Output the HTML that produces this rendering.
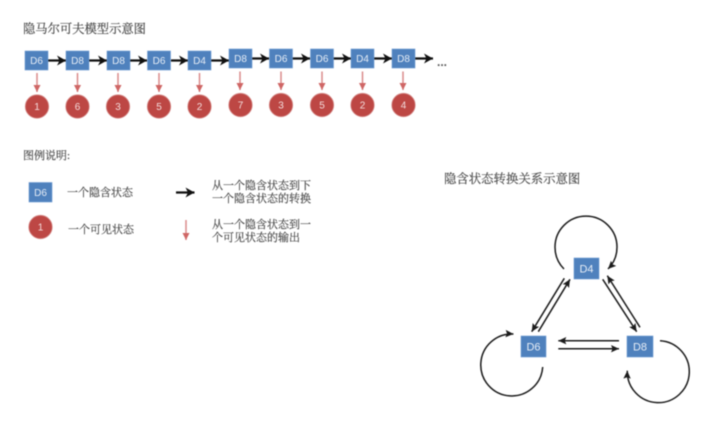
<!DOCTYPE html>
<html>
<head>
<meta charset="utf-8">
<style>
html,body{margin:0;padding:0;background:#fff;width:720px;height:423px;overflow:hidden}
svg{display:block;filter:blur(.5px)}
.cn{font-family:"Liberation Serif","Noto Serif CJK SC",serif;fill:#4a4a4a;stroke:#4a4a4a;stroke-width:.18}
.t{font-family:"Liberation Sans",sans-serif;font-size:10px;fill:#e6edf6;text-anchor:middle}
.n{font-family:"Liberation Sans",sans-serif;font-size:10px;fill:#f3dcdc;text-anchor:middle}
.b{fill:#4f81bd;stroke:#6f9bd0;stroke-width:.6}
.c{fill:#bd4744;stroke:#d58a88;stroke-width:.8}
.k{stroke:#111;stroke-width:2.300;fill:none}
.r{stroke:#d98a8a;stroke-width:1.500;fill:none}
.l{stroke:#1c1c1c;stroke-width:1.500;fill:none}
</style>
</head>
<body>
<svg width="720" height="423" viewBox="0 0 720 423" xmlns="http://www.w3.org/2000/svg">
<defs>
<marker id="ak" markerUnits="userSpaceOnUse" markerWidth="10" markerHeight="11" refX="9" refY="5.500" orient="auto"><path d="M0,.5 L9,5.500 L0,10.500 L2.500,5.500 Z" fill="#111"/></marker>
<marker id="ar" markerUnits="userSpaceOnUse" markerWidth="8" markerHeight="8" refX="7" refY="3.500" orient="auto"><path d="M0,0 L7,3.500 L0,7 Z" fill="#cf6665"/></marker>
<marker id="al" markerUnits="userSpaceOnUse" markerWidth="9" markerHeight="9" refX="8" refY="4" orient="auto"><path d="M0,.3 L8,4 L0,7.700 L1.500,4 Z" fill="#1c1c1c"/></marker>
</defs>

<text class="cn" x="23" y="33" font-size="12.3">隐马尔可夫模型示意图</text>

<!-- black chain -->
<path class="k" d="M48,60.500H66" marker-end="url(#ak)"/>
<path class="k" d="M89,60.500H107" marker-end="url(#ak)"/>
<path class="k" d="M130,60.500H147" marker-end="url(#ak)"/>
<path class="k" d="M171,60.500H188" marker-end="url(#ak)"/>
<path class="k" d="M211,60.500H229" marker-end="url(#ak)"/>
<path class="k" d="M252,58.500H269" marker-end="url(#ak)"/>
<path class="k" d="M292,58.500H310" marker-end="url(#ak)"/>
<path class="k" d="M333,58.500H351" marker-end="url(#ak)"/>
<path class="k" d="M374,58.500H392" marker-end="url(#ak)"/>
<path class="k" d="M415,58.500H433" marker-end="url(#ak)"/>
<text x="437" y="66" font-family="Liberation Sans,sans-serif" font-size="12" font-weight="bold" fill="#555">...</text>

<!-- boxes -->
<rect class="b" x="25" y="51" width="23" height="19"/><text class="t" x="36.500" y="64">D6</text>
<rect class="b" x="66" y="51" width="23" height="19"/><text class="t" x="77.500" y="64">D8</text>
<rect class="b" x="107" y="51" width="23" height="19"/><text class="t" x="118.500" y="64">D8</text>
<rect class="b" x="147.500" y="51" width="23" height="19"/><text class="t" x="159" y="64">D6</text>
<rect class="b" x="188" y="51" width="23" height="19"/><text class="t" x="199.500" y="64">D4</text>
<rect class="b" x="229" y="49" width="23" height="19"/><text class="t" x="240.500" y="62">D8</text>
<rect class="b" x="269.500" y="49" width="23" height="19"/><text class="t" x="281" y="62">D6</text>
<rect class="b" x="310.500" y="49" width="23" height="19"/><text class="t" x="322" y="62">D6</text>
<rect class="b" x="351" y="49" width="23" height="19"/><text class="t" x="362.500" y="62">D4</text>
<rect class="b" x="392" y="49" width="23" height="19"/><text class="t" x="403.500" y="62">D8</text>

<!-- red arrows -->
<path class="r" d="M37,73V92" marker-end="url(#ar)"/>
<path class="r" d="M77.500,73V92" marker-end="url(#ar)"/>
<path class="r" d="M118,73V92" marker-end="url(#ar)"/>
<path class="r" d="M159,73V92" marker-end="url(#ar)"/>
<path class="r" d="M199.500,73V92" marker-end="url(#ar)"/>
<path class="r" d="M240,71.500V90" marker-end="url(#ar)"/>
<path class="r" d="M281,71.500V90" marker-end="url(#ar)"/>
<path class="r" d="M322,71.500V90" marker-end="url(#ar)"/>
<path class="r" d="M362.500,71.500V90" marker-end="url(#ar)"/>
<path class="r" d="M403,71.500V90" marker-end="url(#ar)"/>

<!-- circles -->
<circle class="c" cx="37" cy="106.500" r="11.700"/><text class="n" x="37" y="110">1</text>
<circle class="c" cx="77.500" cy="106.500" r="11.700"/><text class="n" x="77.500" y="110">6</text>
<circle class="c" cx="118" cy="106.500" r="11.700"/><text class="n" x="118" y="110">3</text>
<circle class="c" cx="159" cy="106.500" r="11.700"/><text class="n" x="159" y="110">5</text>
<circle class="c" cx="199.500" cy="106.500" r="11.700"/><text class="n" x="199.500" y="110">2</text>
<circle class="c" cx="240.500" cy="105" r="11.700"/><text class="n" x="240.500" y="108.500">7</text>
<circle class="c" cx="281" cy="105" r="11.700"/><text class="n" x="281" y="108.500">3</text>
<circle class="c" cx="322" cy="105" r="11.700"/><text class="n" x="322" y="108.500">5</text>
<circle class="c" cx="362.500" cy="105" r="11.700"/><text class="n" x="362.500" y="108.500">2</text>
<circle class="c" cx="403.500" cy="105" r="11.700"/><text class="n" x="403.500" y="108.500">4</text>

<!-- legend -->
<text class="cn" x="23" y="159" font-size="11">图例说明:</text>
<rect class="b" x="29" y="182.500" width="23" height="19.500"/><text class="t" x="40.500" y="196">D6</text>
<text class="cn" x="67" y="196" font-size="11">一个隐含状态</text>
<path class="k" d="M176,192.500H194.500" marker-end="url(#ak)"/>
<text class="cn" x="212" y="189" font-size="11">从一个隐含状态到下</text>
<text class="cn" x="212" y="202" font-size="11">一个隐含状态的转换</text>
<circle class="c" cx="40.500" cy="227" r="11.700"/><text class="n" x="40.500" y="230.500">1</text>
<text class="cn" x="68" y="233" font-size="11">一个可见状态</text>
<path class="r" d="M186,220V240" marker-end="url(#ar)"/>
<text class="cn" x="212" y="228" font-size="11">从一个隐含状态到一</text>
<text class="cn" x="212" y="241" font-size="11">个可见状态的输出</text>

<!-- state graph -->
<text class="cn" x="444" y="183" font-size="12.400">隐含状态转换关系示意图</text>

<path class="l" d="M564.300,278.300L531.700,331.700" marker-end="url(#al)"/>
<path class="l" d="M538.300,331.700L570,279.300" marker-end="url(#al)"/>
<path class="l" d="M602.700,279.300L636.700,331.700" marker-end="url(#al)"/>
<path class="l" d="M640,327.300L607.300,275.700" marker-end="url(#al)"/>
<path class="l" d="M619,340.700H558.300" marker-end="url(#al)"/>
<path class="l" d="M558.300,348.700H619" marker-end="url(#al)"/>

<path class="l" d="M564,269A31,31 0 1 1 608,269" marker-end="url(#al)"/>
<path class="l" d="M542.700,367A31,31 0 1 1 513.500,334" marker-end="url(#al)"/>
<path class="l" d="M660,340.700A31,31 0 1 1 627.300,370.700" marker-end="url(#al)"/>

<rect class="b" x="574" y="258" width="25" height="21"/><text class="t" x="586.500" y="272.500" style="font-size:11px">D4</text>
<rect class="b" x="521" y="336" width="25" height="21"/><text class="t" x="533.500" y="350.500" style="font-size:11px">D6</text>
<rect class="b" x="627" y="336" width="26" height="21"/><text class="t" x="640" y="350.500" style="font-size:11px">D8</text>
</svg>
</body>
</html>
